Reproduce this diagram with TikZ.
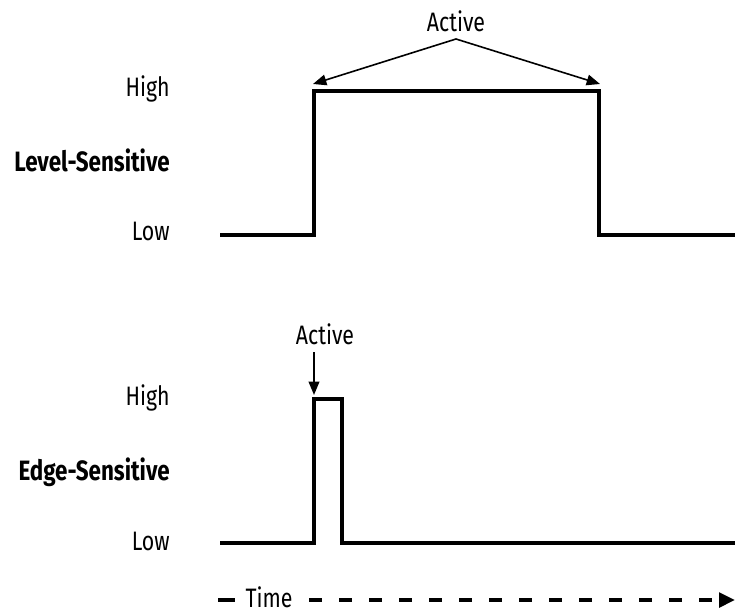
\documentclass[tikz,border=0pt]{standalone}
\usepackage{fontspec}
\setmainfont{Fira Sans}[FakeStretch=0.8]
\usetikzlibrary{arrows.meta}
\begin{document}
\begin{tikzpicture}[x=0.75pt,y=-0.75pt,
  wave/.style={line width=2.6pt,line join=miter},
  lbl/.style={anchor=east,inner sep=0pt,font=\fontsize{20}{22}\selectfont},
  blbl/.style={anchor=east,inner sep=0pt,font=\fontsize{21}{23}\selectfont\bfseries},
  ptr/.style={line width=1.2pt,-{Triangle[length=10pt,width=8pt]}},
  act/.style={inner sep=0pt,font=\fontsize{20}{22}\selectfont}]
\useasboundingbox (0,0) rectangle (735,614);
% labels
\node[lbl]  (h1) at (170,89) {High};
\node[blbl] (ls) at (170,160) {Level-Sensitive};
\node[lbl]  (l1) at (170,231) {Low};
\node[lbl]  (h2) at (170,398) {High};
\node[blbl] (es) at (170,472) {Edge-Sensitive};
\node[lbl]  (l2) at (170,541) {Low};
% level-sensitive waveform
\coordinate (a0) at (220,235);
\coordinate (a1) at (314,235);
\coordinate (a2) at (314,91);
\coordinate (a3) at (599,91);
\coordinate (a4) at (599,235);
\coordinate (a5) at (735,235);
\draw[wave] (a0) -- (a1) -- (a2) -- (a3) -- (a4) -- (a5);
\node[act] (act1) at (456,21) {Active};
\coordinate (apex) at (456,39);
\coordinate (tl) at (313,84);
\coordinate (tr) at (600,84);
\draw[ptr] (apex) -- (tl);
\draw[ptr] (apex) -- (tr);
% edge-sensitive waveform
\coordinate (b0) at (220,543);
\coordinate (b1) at (314,543);
\coordinate (b2) at (314,399);
\coordinate (b3) at (342,399);
\coordinate (b4) at (342,543);
\coordinate (b5) at (735,543);
\draw[wave] (b0) -- (b1) -- (b2) -- (b3) -- (b4) -- (b5);
\node[act] (act2) at (325,334) {Active};
\coordinate (pt) at (314,395);
\coordinate (ps) at (314,352);
\draw[ptr] (ps) -- (pt);
% time axis
\node[act,anchor=base] (time) at (269,607) {Time};
\coordinate (t0) at (218,600);
\coordinate (t1) at (235,600);
\coordinate (t2) at (309,600);
\coordinate (tend) at (735,600);
\draw[line width=2.6pt] (t0) -- (t1);
\draw[line width=2.6pt,dash pattern=on 10pt off 12.5pt,-{Triangle[length=12pt,width=11pt]}] (t2) -- (tend);
\end{tikzpicture}
\end{document}
